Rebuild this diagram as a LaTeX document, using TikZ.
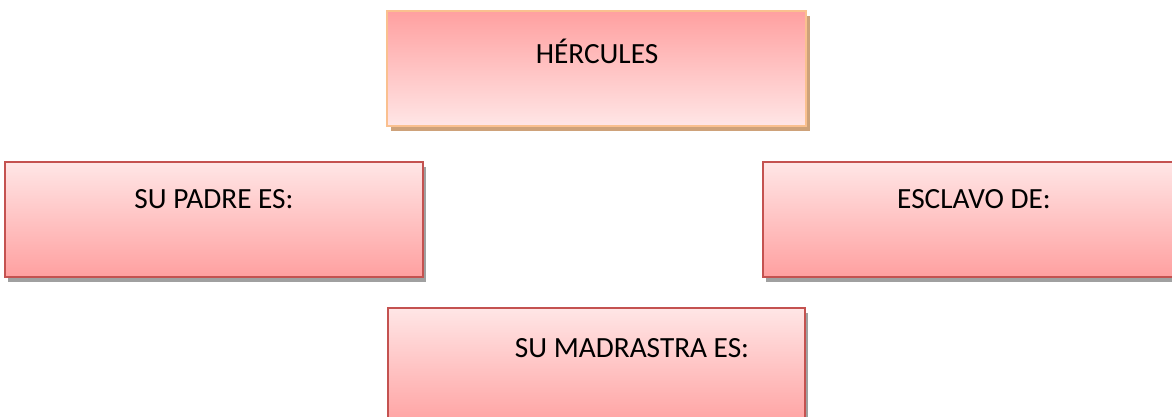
\documentclass[tikz,border=0pt]{standalone}
\usepackage{fontspec}
\setmainfont{Carlito}
\usetikzlibrary{shadows}
\definecolor{pinkdark}{RGB}{255,160,160}
\definecolor{pinklight}{RGB}{255,230,230}
\definecolor{orangeborder}{RGB}{250,192,143}
\definecolor{redborder}{RGB}{196,82,80}
\definecolor{tanshadow}{RGB}{206,162,122}
\definecolor{grayshadow}{RGB}{160,160,160}
\tikzset{
  boxbase/.style={rectangle, inner sep=0pt, line width=1.8pt},
  topbox/.style={boxbase, draw=orangeborder, top color=pinkdark, bottom color=pinklight,
    drop shadow={shadow xshift=4pt, shadow yshift=-5pt, fill=tanshadow, opacity=1}},
  subbox/.style={boxbase, draw=redborder, top color=pinklight, bottom color=pinkdark,
    drop shadow={shadow xshift=3pt, shadow yshift=-5pt, fill=grayshadow, opacity=1}},
  lbl/.style={font=\fontsize{29.3}{35}\selectfont, text=black, inner sep=0pt, anchor=base}
}
\begin{document}
\begin{tikzpicture}[x=1pt,y=-1pt]
\useasboundingbox (0,0) rectangle (1172,416);
\clip (0,0) rectangle (1172,416);
\node[topbox, minimum width=419pt, minimum height=115pt] (herc) at (596.5,68.5) {};
\node[subbox, minimum width=418pt, minimum height=115pt] (padre) at (214,219.5) {};
\node[subbox, minimum width=418pt, minimum height=115pt] (esclavo) at (972,219.5) {};
\node[subbox, minimum width=417pt, minimum height=120pt] (madrastra) at (596.5,368) {};
\node[lbl] (t1) at (597,63) {HÉRCULES};
\node[lbl] (t2) at (214,208) {SU PADRE ES:};
\node[lbl] (t3) at (974,208) {ESCLAVO DE:};
\node[lbl] (t4) at (632,357) {SU MADRASTRA ES:};
\end{tikzpicture}
\end{document}
